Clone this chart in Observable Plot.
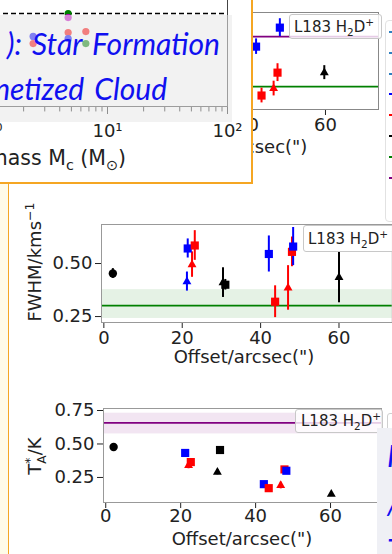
<!DOCTYPE html>
<html>
<head>
<meta charset="utf-8">
<script src="https://cdn.jsdelivr.net/npm/d3@7"></script>
<script src="https://cdn.jsdelivr.net/npm/@observablehq/plot@0.6"></script>
<style>
  body { margin: 0; background: #fff; }
  #root { position: relative; width: 392px; height: 554px; overflow: hidden; background: #fff;
          font-family: "DejaVu Sans", sans-serif; color: #222; }
  sub, sup { font-size: 0.7em; line-height: 0; }
  .ss { display: inline-block; vertical-align: -0.42em; font-size: 0.68em; line-height: 0.95; text-align: left; }
  .ss span { display: block; }
  .lg { position: absolute; box-sizing: border-box; border: 1px solid #c8c8c8; border-radius: 3px;
        background: rgba(255,255,255,0.8); font-size: 15px; white-space: nowrap; color: #222; }
</style>
</head>
<body>
<div id="root"></div>
<script>
// ---------------- data ----------------
// series (marker families shared by the offset panels)
const seriesNames = ["A", "B", "C", "D", "E", "F", "G"];
// offset axis
const offsetDomain = [-0.6, 73.6];
const offsetTicks = [0, 20, 40, 60];
const offsetTicksVisibleTop = [40, 60];

// top-right panel (partly hidden), velocity-like quantity
const velSeries = ["B", "B", "D", "D", "E", "G"];
const velOffset = [48.3, 42.2, 47.7, 43.6, 46.7, 59.7];
const velValue  = [2.511, 2.462, 2.395, 2.336, 2.354, 2.395];
const velError  = [0.023, 0.020, 0.023, 0.019, 0.019, 0.018];
const velGreenLine = 2.359;
const velPurpleLine = 2.488;

// FWHM panel
const fwhmSeries = ["A", "B", "D", "E", "C", "G", "F", "B", "D", "E", "D", "B", "G"];
const fwhmOffset = [2.3, 21.4, 23.2, 22.5, 21.2, 30.4, 31.0, 42.1, 43.7, 47.0, 48.0, 48.3, 60.0];
const fwhmValue  = [0.453, 0.571, 0.585, 0.495, 0.415, 0.410, 0.400, 0.545, 0.320, 0.385, 0.555, 0.580, 0.435];
const fwhmError  = [0.023, 0.045, 0.070, 0.060, 0.045, 0.070, 0.025, 0.085, 0.075, 0.105, 0.070, 0.090, 0.120];
const fwhmTicks = [0.25, 0.50];
const fwhmRefLine = 0.302;
const fwhmRefBand = [0.241, 0.377];

// T_A* panel
const taSeries = ["A", "B", "D", "E", "F", "G", "B", "D", "E", "D", "B", "G"];
const taOffset = [2.1, 21.2, 22.7, 22.1, 30.5, 29.8, 42.2, 43.5, 46.7, 47.7, 48.2, 60.2];
const taValue  = [0.478, 0.433, 0.365, 0.340, 0.455, 0.290, 0.200, 0.170, 0.190, 0.310, 0.300, 0.126];
const taError  = [0.010, 0.010, 0.015, 0.025, 0.010, 0.020, 0.010, 0.010, 0.025, 0.015, 0.010, 0.010];
const taTicks = [0.25, 0.50, 0.75];
const taRefLine = 0.657;
const taRefBand = [0.575, 0.730];

// top-left panel (core mass, log axis)
const massTicks = [1, 10, 100];
const massMinorTicks = [2, 3, 4, 5, 6, 7, 8, 9, 20, 30, 40, 50, 60, 70, 80, 90];
const massX     = [4.7, 4.7, 4.7, 6.6, 4.7, 6.6, 2.4, 2.4];
const massY     = [0.684, 0.654, 0.544, 0.551, 0.500, 0.463, 0.515, 0.463];
const massGroup = ["g", "m", "r", "r", "b", "g", "b", "r"];
const massDashLevel = 0.684;

// right-hand legend entries
const legendEntries = ["l1", "l2", "l3", "l4", "l5", "l6", "l7", "l8"];

// ---------------- styles ----------------
const seriesColors = ["black", "blue", "blue", "red", "red", "black", "black"];
const seriesSymbolNames = ["circle", "square", "triangle", "square", "triangle", "square", "triangle"];
const symbolObj = {circle: d3.symbolCircle, square: d3.symbolSquare, triangle: d3.symbolTriangle};
const symbolRadius = {circle: 4.2, square: 4.6, triangle: 3.3};
const massGroupColors = {g: "#008000", m: "#c000c0", r: "red", b: "blue"};
const legendColors = ["#2f80c0", "#2f80c0", "#2f80c0", "blue", "red", "black", "green", "purple"];

const baseStyle = "font-family:'DejaVu Sans',sans-serif;font-size:18px;overflow:visible;background:none;color:#222;max-width:none;";
const colorScale = {domain: seriesNames, range: seriesColors};
const symbolScale = {domain: seriesNames, range: seriesSymbolNames.map(s => symbolObj[s])};

const rows = (s, o, v, e) => s.map((k, i) => ({series: k, offset: o[i], value: v[i], error: e[i]}));
const shapeOf = d => seriesSymbolNames[seriesNames.indexOf(d.series)];

function pointMarks(data) {
  return [
    Plot.ruleX(data, {x: "offset", y1: d => d.value - d.error, y2: d => d.value + d.error, stroke: "series", strokeWidth: 2}),
    ...["circle", "square", "triangle"].map(sh =>
      Plot.dot(data, {filter: d => shapeOf(d) === sh, x: "offset", y: "value", fill: "series",
                      symbol: "series", r: symbolRadius[sh], stroke: "none"}))
  ];
}

const root = document.getElementById("root");
function place(parent, el, left, top, w) {
  const d = document.createElement("div");
  d.style.cssText = `position:absolute;left:${left}px;top:${top}px;` + (w ? `width:${w}px;` : "");
  d.appendChild(el);
  parent.appendChild(d);
  return d;
}
function html(parent, s, css) {
  const d = document.createElement("div");
  d.style.cssText = "position:absolute;white-space:nowrap;line-height:1;" + css;
  d.innerHTML = s;
  parent.appendChild(d);
  return d;
}
function box(parent, css) {
  const d = document.createElement("div");
  d.style.cssText = "position:absolute;" + css;
  parent.appendChild(d);
  return d;
}
const L183 = "L183 H<sub>2</sub>D<sup>+</sup>";

// ---------------- top-right panel (only its right part is visible) ----------------
const clipB = box(root, "left:252px;top:0;width:140px;height:183px;overflow:hidden;");
const velData = rows(velSeries, velOffset, velValue, velError);
const chartB = Plot.plot({
  width: 392, height: 180, marginLeft: 88.7, marginRight: 14, marginTop: 12, marginBottom: 71,
  style: baseStyle,
  x: {domain: offsetDomain, ticks: offsetTicksVisibleTop, tickSize: 6, label: null},
  y: {domain: [2.30, 2.55], axis: null},
  color: colorScale, symbol: symbolScale,
  marks: [
    Plot.ruleY([velGreenLine], {stroke: "green", strokeWidth: 1.8}),
    Plot.ruleY([velPurpleLine], {stroke: "purple", strokeWidth: 1.8}),
    ...pointMarks(velData),
    Plot.frame({stroke: "#888"})
  ]
});
place(clipB, chartB, -252, 0, 392);
html(clipB, 'Offset/arcsec(")', "left:-215px;width:400px;text-align:center;top:138px;font-size:18px;");
const lgB = box(root, "");
lgB.className = "lg";
lgB.style.cssText += "left:289px;top:14px;width:93px;height:25px;line-height:24px;padding-left:4px;";
lgB.innerHTML = L183;

// right-hand legend
box(root, "left:385px;top:20px;width:40px;height:200px;border:1px solid #e2e2e2;border-radius:4px;background:rgba(255,255,255,0.85);");
legendEntries.forEach((k, i) => {
  box(root, `left:389px;top:${31 + i * 20.8}px;width:4px;height:2px;background:${legendColors[i]};`);
});

// ---------------- top-left panel ----------------
const panelA = box(root, "left:0;top:0;width:252px;height:183px;overflow:hidden;background:#fff;");
const massData = massX.map((x, i) => ({mass: x, y: massY[i], group: massGroup[i]}));
const supMap = {1: "10⁰", 10: "10¹", 100: "10²"};
const chartA = Plot.plot({
  width: 300, height: 200, marginLeft: 47, marginRight: 13, marginTop: 10, marginBottom: 54,
  style: baseStyle,
  x: {type: "log", domain: [1, 100], ticks: massTicks, tickFormat: d => supMap[d], tickSize: 8, tickPadding: 10, label: null},
  y: {domain: [0, 1], axis: null},
  marks: [
    Plot.ruleX(massMinorTicks, {x: d => d, y1: 0, y2: -0.04, stroke: "#222", strokeWidth: 1}),
    Plot.ruleY([massDashLevel], {stroke: "black", strokeWidth: 1.6, strokeDasharray: "5,3"}),
    Plot.dot(massData, {x: "mass", y: "y", r: 3.6, fill: d => massGroupColors[d.group], stroke: "none"}),
    Plot.frame({stroke: "#444"})
  ]
});
place(panelA, chartA, -60, -40, 300);
html(panelA, "Core mass M<sub>c</sub> (M<sub>⊙</sub>)", "left:-200px;width:326px;text-align:right;top:148px;font-size:20.5px;");
box(panelA, "left:-4px;top:15px;width:236px;height:107px;background:rgba(232,232,232,0.55);");
const ns = "http://www.w3.org/2000/svg";
const tsvg = document.createElementNS(ns, "svg");
tsvg.setAttribute("width", 252); tsvg.setAttribute("height", 183);
tsvg.style.cssText = "position:absolute;left:0;top:0;overflow:visible;";
[["): Star Formation", 220, 55], ["Magnetized Cloud", 167, 100]].forEach(([t, x, y]) => {
  const e = document.createElementNS(ns, "text");
  e.setAttribute("x", x); e.setAttribute("y", y); e.setAttribute("text-anchor", "end");
  e.setAttribute("fill", "#1010f0");
  e.setAttribute("style", "font-family:Lato,'Open Sans',sans-serif;font-style:italic;font-size:30px;word-spacing:3px;");
  e.textContent = t;
  tsvg.appendChild(e);
});
panelA.appendChild(tsvg);

// ---------------- FWHM panel ----------------
const fwhmData = rows(fwhmSeries, fwhmOffset, fwhmValue, fwhmError);
const chartC = Plot.plot({
  width: 400, height: 170, marginLeft: 101, marginRight: 8.2, marginTop: 24, marginBottom: 48,
  style: baseStyle,
  x: {domain: offsetDomain, ticks: offsetTicks, tickSize: 6, label: null},
  y: {domain: [0.222, 0.684], ticks: fwhmTicks, tickFormat: d3.format(".2f"), tickSize: 6, label: null},
  color: colorScale, symbol: symbolScale,
  marks: [
    Plot.rect([fwhmRefBand], {x1: offsetDomain[0], x2: offsetDomain[1], y1: d => d[0], y2: d => d[1], fill: "green", fillOpacity: 0.1}),
    Plot.ruleY([fwhmRefLine], {stroke: "green", strokeWidth: 1.8}),
    ...pointMarks(fwhmData),
    Plot.frame({stroke: "#999"})
  ]
});
place(root, chartC, 0, 200, 400);
html(root, 'Offset/arcsec(")', "left:44px;width:400px;text-align:center;top:348px;font-size:18px;");
html(root, "FWHM/kms<sup>−1</sup>", "left:35px;top:262px;font-size:18px;transform:translate(-50%,-50%) rotate(-90deg);");
const lgC = box(root, "");
lgC.className = "lg";
lgC.style.cssText += "left:303px;top:225px;width:95px;height:27px;line-height:26px;padding-left:4px;";
lgC.innerHTML = L183;

// ---------------- T_A* panel ----------------
const taData = rows(taSeries, taOffset, taValue, taError);
const chartD = Plot.plot({
  width: 400, height: 164, marginLeft: 103, marginRight: 19, marginTop: 18, marginBottom: 52,
  style: baseStyle,
  x: {domain: offsetDomain, ticks: offsetTicks, tickSize: 6, tickPadding: 1, label: null},
  y: {domain: [0.063, 0.765], ticks: taTicks, tickFormat: d3.format(".2f"), tickSize: 6, label: null},
  color: colorScale, symbol: symbolScale,
  marks: [
    Plot.rect([taRefBand], {x1: offsetDomain[0], x2: offsetDomain[1], y1: d => d[0], y2: d => d[1], fill: "purple", fillOpacity: 0.1}),
    Plot.ruleY([taRefLine], {stroke: "purple", strokeWidth: 1.8}),
    ...pointMarks(taData),
    Plot.frame({stroke: "#999"})
  ]
});
place(root, chartD, 0, 390, 400);
html(root, 'Offset/arcsec(")', "left:42px;width:400px;text-align:center;top:530px;font-size:18px;");
html(root, 'T<span class="ss"><span>*</span><span>A</span></span>/K', "left:37px;top:456px;font-size:18px;transform:translate(-50%,-50%) rotate(-90deg);");
const lgD = box(root, "");
lgD.className = "lg";
lgD.style.cssText += "left:295px;top:409px;width:88px;height:24px;line-height:23px;padding-left:5px;";
lgD.innerHTML = L183;
box(root, "left:387px;top:413px;width:30px;height:22px;border:1px solid #d0d0d0;border-radius:3px;background:rgba(255,255,255,0.8);");

// bottom-right text box
const br = box(root, "left:377px;top:428px;width:40px;height:130px;background:#eff0f5;");
const bsvg = document.createElementNS(ns, "svg");
bsvg.setAttribute("width", 40); bsvg.setAttribute("height", 140);
bsvg.style.cssText = "position:absolute;left:0;top:0;overflow:visible;";
[["K", 467], ["/", 514], ["T", 561]].forEach(([t, y]) => {
  const e = document.createElementNS(ns, "text");
  e.setAttribute("x", 10); e.setAttribute("y", y - 428);
  e.setAttribute("fill", "#1010f0");
  e.setAttribute("style", "font-family:Lato,'Open Sans',sans-serif;font-style:italic;font-size:30px;");
  e.textContent = t;
  bsvg.appendChild(e);
});
br.appendChild(bsvg);

// ---------------- frame decorations ----------------
box(root, "left:0;top:183px;width:7.5px;height:371px;background:#fffbe8;");
box(root, "left:251px;top:0;width:1.6px;height:183px;background:#f5a623;");
box(root, "left:0;top:182px;width:252.6px;height:1.6px;background:#f5a623;");
box(root, "left:7.5px;top:182px;width:1.6px;height:372px;background:#f5a623;");
</script>
</body>
</html>
